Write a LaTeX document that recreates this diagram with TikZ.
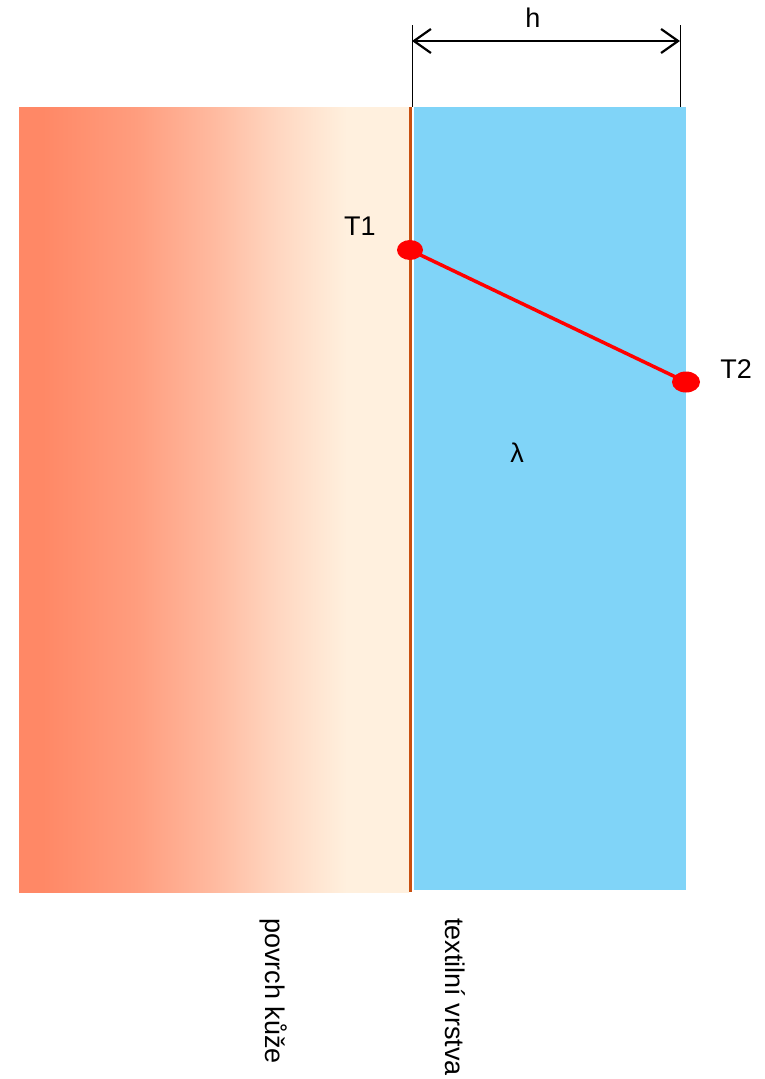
\documentclass[tikz,border=0pt]{standalone}
\usepackage{fontspec}
\setmainfont{Liberation Sans}
\usetikzlibrary{arrows.meta}
\definecolor{coral}{RGB}{255,136,102}
\definecolor{cream}{RGB}{255,240,222}
\definecolor{skyb}{RGB}{128,212,248}
\definecolor{brownl}{RGB}{200,80,16}
\pgfdeclarehorizontalshading{skin}{100bp}{
  color(0bp)=(coral); color(28bp)=(coral); color(40bp)=(coral!80!cream);
  color(50bp)=(coral!52!cream); color(58bp)=(coral!25!cream);
  color(67bp)=(cream); color(100bp)=(cream)}
\tikzset{
  lbl/.style={font=\fontsize{27}{31}\selectfont, inner sep=0pt},
  dim/.style={line width=2.2pt, {Straight Barb[length=17pt,width=24pt]}-{Straight Barb[length=17pt,width=24pt]}},
}
\begin{document}
\begin{tikzpicture}[x=1pt,y=-1pt]
\useasboundingbox (0,0) rectangle (765,1079);
% skin
\shade[shading=skin] (19,107) rectangle (409,892);
\fill[brownl] (408.5,107) rectangle (411.5,892);
% textile
\fill[skyb] (414,107) rectangle (686,890);
% dimension
\coordinate (d1) at (412,41);
\coordinate (d2) at (680,41);
\draw[line width=0.8pt] (412,25) -- (412,107);
\draw[line width=0.8pt] (680,25) -- (680,107);
\draw[dim] (d1) -- (d2);
\node[lbl] (h) at (533,18) {h};
% temperatures
\coordinate (t1) at (410,250);
\coordinate (t2) at (686,382);
\draw[red, line width=3.5pt] (t1) -- (t2);
\fill[red] (t1) ellipse [x radius=13, y radius=10];
\fill[red] (t2) ellipse [x radius=14, y radius=10.5];
\node[lbl] (T1) at (360,226) {T1};
\node[lbl] (T2) at (736,369) {T2};
\node[lbl] (lam) at (517,453) {λ};
% labels
\node[lbl, rotate=-90] (pk) at (274,991) {povrch kůže};
\node[lbl, rotate=-90] (tv) at (455,997) {textilní vrstva};
\end{tikzpicture}
\end{document}
